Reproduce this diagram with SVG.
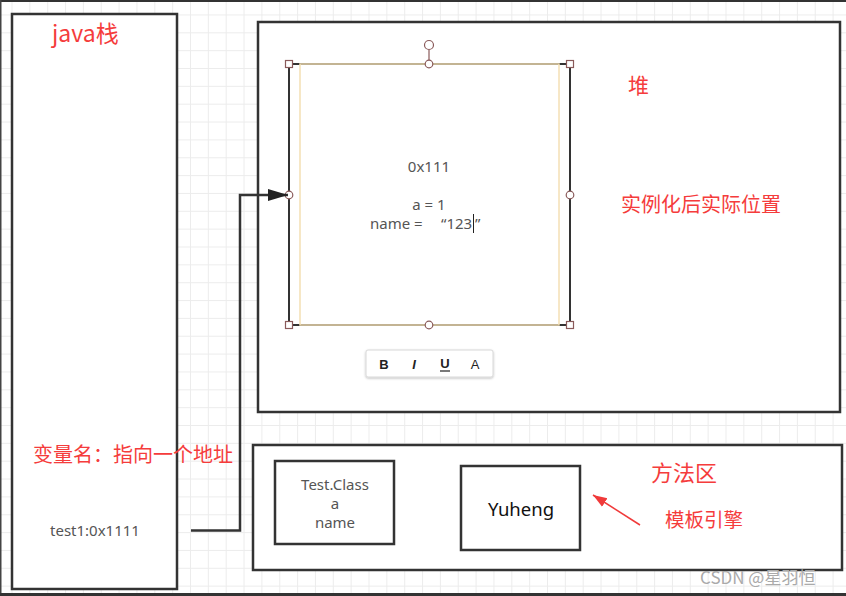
<svg xmlns="http://www.w3.org/2000/svg" width="846" height="596" viewBox="0 0 846 596">
<defs>
<pattern id="grid" patternUnits="userSpaceOnUse" x="11.5" y="14.45" width="17.85" height="17.85">
<path d="M0 0.5H17.85M0.5 0V17.85" fill="none" stroke="#ececec" stroke-width="1"/>
</pattern>
<marker id="arrowBlack" markerUnits="userSpaceOnUse" markerWidth="20" markerHeight="14" refX="20" refY="7" orient="auto">
<path d="M0 1L20 7L0 13Z" fill="#222"/>
</marker>
<marker id="arrowRed" markerUnits="userSpaceOnUse" markerWidth="14" markerHeight="12" refX="14" refY="6" orient="auto">
<path d="M0 1L14 6L0 11Z" fill="#f03a3a"/>
</marker>
<filter id="shadow" x="-10%" y="-30%" width="120%" height="160%">
<feDropShadow dx="0" dy="1" stdDeviation="1.2" flood-color="#000" flood-opacity="0.25"/>
</filter>
</defs>
<style>
.box{fill:#fff;stroke:#333;stroke-width:2.5}
.red{fill:#f53c3c;font-family:"Noto Sans CJK SC","Noto Sans",sans-serif}
.txt{fill:#555;font-family:"Noto Sans","Noto Sans CJK SC",sans-serif;font-size:15px;text-anchor:middle}
.start{text-anchor:start}
.handle{fill:#fff;stroke:#8a5a5a;stroke-width:1.2}
.tb{font-family:"Liberation Sans",sans-serif;font-size:13px;fill:#222;text-anchor:middle}
</style>
<rect x="0" y="0" width="846" height="596" fill="#fff"/>
<rect x="0" y="0" width="846" height="596" fill="url(#grid)"/>
<rect x="0" y="0" width="846" height="2" fill="#333"/>
<rect x="0" y="0" width="1.5" height="596" fill="#444"/>
<rect x="0" y="593" width="846" height="3" fill="#333"/>

<g id="java-stack">
<rect class="box" x="12" y="14" width="165" height="575"/>
<text class="red" x="52" y="42" font-size="23">java栈</text>
<text class="red" x="33" y="462" font-size="20">变量名：指向一个地址</text>
<text class="txt" x="95" y="536">test1:0x1111</text>
</g>

<g id="heap">
<rect class="box" x="258" y="22" width="582" height="390"/>
<text class="red" x="628" y="93" font-size="21">堆</text>
<text class="red" x="621" y="212" font-size="20">实例化后实际位置</text>
</g>

<g id="object">
<rect x="289" y="64" width="281" height="261" fill="#fff" stroke="#333" stroke-width="2"/>
<rect x="300" y="64" width="259" height="261" fill="none" stroke="#f4dfb4" stroke-width="1.5"/>
<text class="txt" x="429" y="172">0x111</text>
<text class="txt" x="429" y="210">a = 1</text>
<text class="txt start" x="370" y="229">name =<tspan x="441">“123</tspan><tspan x="475">”</tspan></text>
<line x1="473.5" y1="214" x2="473.5" y2="233" stroke="#222" stroke-width="1"/>
<line x1="429" y1="50" x2="429" y2="64" stroke="#8a5a5a" stroke-width="1.2"/>
<circle class="handle" cx="429" cy="45" r="4.5"/>
<rect class="handle" x="285.5" y="60.5" width="7" height="7"/>
<rect class="handle" x="566.5" y="60.5" width="7" height="7"/>
<rect class="handle" x="285.5" y="321.5" width="7" height="7"/>
<rect class="handle" x="566.5" y="321.5" width="7" height="7"/>
<circle class="handle" cx="429" cy="64" r="3.8"/>
<circle class="handle" cx="429" cy="325" r="3.8"/>
<circle class="handle" cx="289" cy="195" r="3.8"/>
<circle class="handle" cx="570" cy="195" r="3.8"/>
</g>

<g id="toolbar">
<rect x="366" y="350" width="127" height="27" rx="2" fill="#fff" stroke="#d8d8d8" stroke-width="1" filter="url(#shadow)"/>
<text class="tb" x="384" y="369" font-weight="bold">B</text>
<text class="tb" x="414" y="369" font-style="italic" font-weight="bold">I</text>
<text class="tb" x="445" y="368" font-weight="bold">U</text>
<line x1="440" y1="371" x2="450" y2="371" stroke="#222" stroke-width="1.2"/>
<text class="tb" x="475" y="369">A</text>
</g>

<g id="method-area">
<rect class="box" x="253" y="445" width="589" height="125"/>
<text class="red" x="651" y="481" font-size="22">方法区</text>
<text class="red" x="665" y="527" font-size="19.5">模板引擎</text>
</g>

<g id="test-class">
<rect class="box" x="275" y="461" width="119" height="83"/>
<text class="txt" x="335" y="490">Test.Class</text>
<text class="txt" x="335" y="509">a</text>
<text class="txt" x="335" y="528">name</text>
</g>

<g id="yuheng">
<rect class="box" x="461" y="466" width="119" height="84"/>
<text x="521" y="516" font-family="Noto Sans, sans-serif" font-size="18.5" fill="#111" text-anchor="middle">Yuheng</text>
</g>

<g id="connectors">
<path d="M191 530.5H240V195H288" fill="none" stroke="#333" stroke-width="2.5" marker-end="url(#arrowBlack)"/>
<path d="M640 525L593 495" fill="none" stroke="#f03a3a" stroke-width="1.5" marker-end="url(#arrowRed)"/>
</g>

<text x="700" y="584" font-family="Noto Sans CJK SC, sans-serif" font-size="17" fill="#aaa">CSDN @星羽恒</text>
</svg>
